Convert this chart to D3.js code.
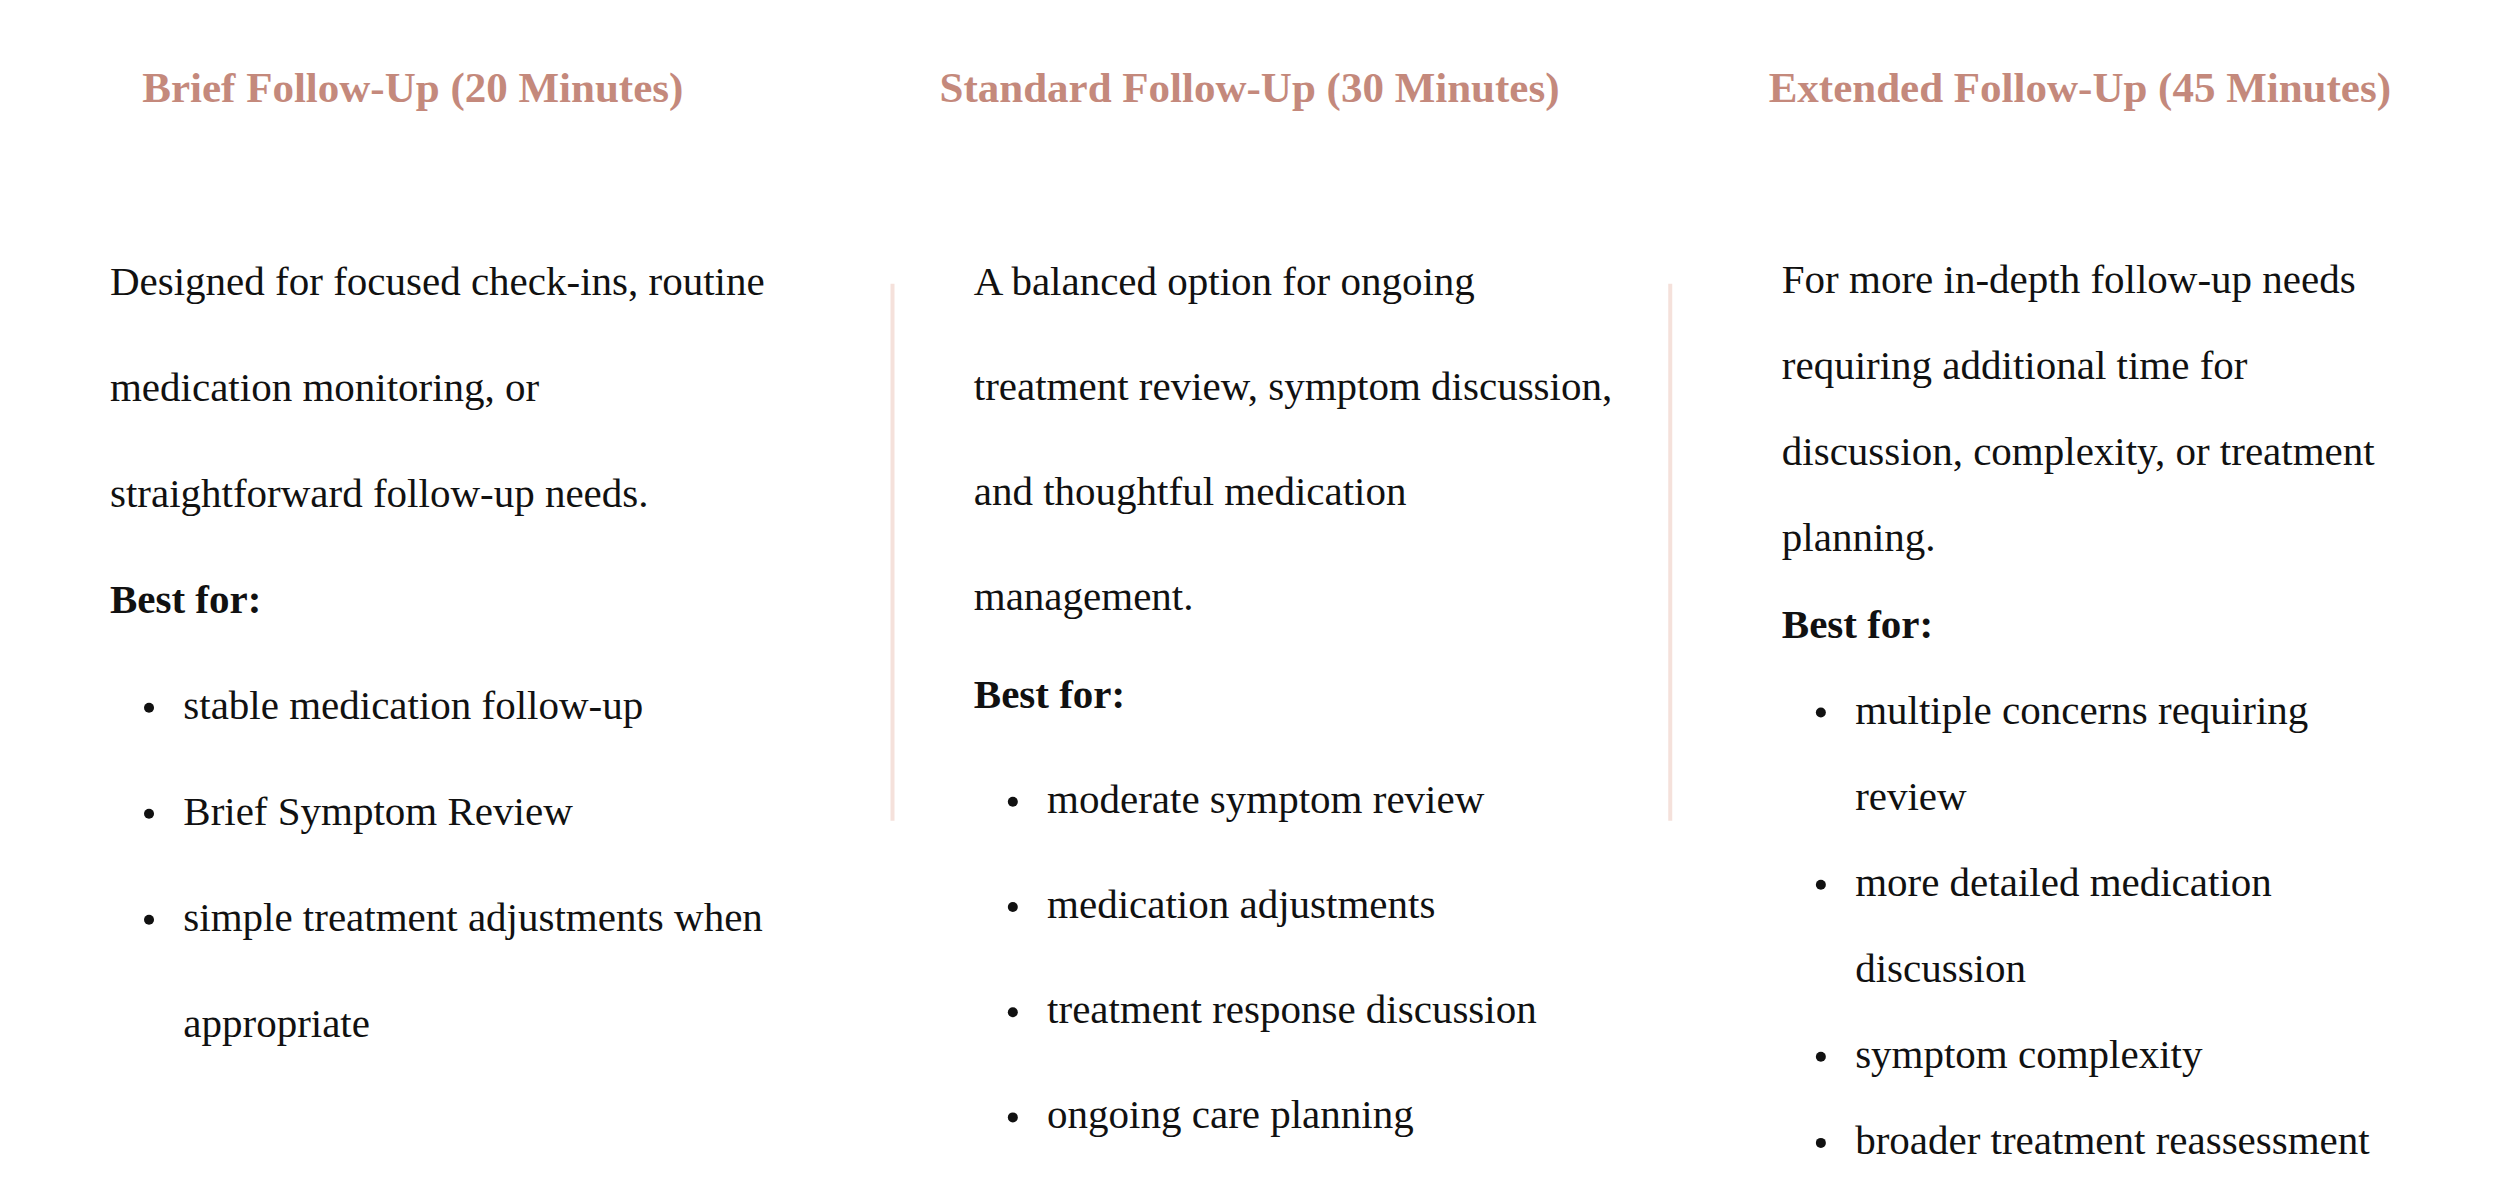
<!DOCTYPE html>
<html>
<head>
<meta charset="utf-8">
<script src="https://cdn.jsdelivr.net/npm/d3@7"></script>
<style>
  body { margin: 0; background: #fff; }
  text { font-family: "Liberation Serif", "DejaVu Serif", serif; }
</style>
</head>
<body>
<svg id="chart"></svg>
<script>
// Content
const titles = [
  "Brief Follow-Up (20 Minutes)",
  "Standard Follow-Up (30 Minutes)",
  "Extended Follow-Up (45 Minutes)"
];
const descriptions = [
  ["Designed for focused check-ins, routine", "medication monitoring, or", "straightforward follow-up needs."],
  ["A balanced option for ongoing", "treatment review, symptom discussion,", "and thoughtful medication", "management."],
  ["For more in-depth follow-up needs", "requiring additional time for", "discussion, complexity, or treatment", "planning."]
];
const bestFor = "Best for:";
const bullets = [
  [["stable medication follow-up"], ["Brief Symptom Review"], ["simple treatment adjustments when", "appropriate"]],
  [["moderate symptom review"], ["medication adjustments"], ["treatment response discussion"], ["ongoing care planning"]],
  [["multiple concerns requiring", "review"], ["more detailed medication", "discussion"], ["symptom complexity"], ["broader treatment reassessment"]]
];

// Layout (measured in a 1568-wide frame, scaled up)
const W = 2499, H = 1195, k = W / 1568;
const cols = [
  { titleX: 259, textX: 69, y0: 185, step: 66.5 },
  { titleX: 784, textX: 611, y0: 185, step: 66 },
  { titleX: 1305, textX: 1118, y0: 184, step: 54 }
];
const titleY = 64;
const dividers = [560, 1048];
const bodySize = 41;

const svg = d3.select("#chart").attr("width", W).attr("height", H);

dividers.forEach(x => {
  svg.append("line")
    .attr("x1", x * k).attr("x2", x * k)
    .attr("y1", 178 * k).attr("y2", 515 * k)
    .attr("stroke", "#f5e1db").attr("stroke-width", 4);
});

cols.forEach((c, i) => {
  svg.append("text")
    .attr("x", c.titleX * k).attr("y", titleY * k)
    .attr("text-anchor", "middle")
    .attr("font-size", 43).attr("font-weight", "bold")
    .attr("fill", "#c4897c")
    .text(titles[i]);

  let line = 0;
  const yAt = n => (c.y0 + n * c.step) * k;
  descriptions[i].forEach(t => {
    svg.append("text").attr("x", c.textX * k).attr("y", yAt(line++))
      .attr("font-size", bodySize).attr("fill", "#111").text(t);
  });
  // "Best for:" sits slightly tighter in column 2
  const bestY = i === 1 ? yAt(line) - 5 * k : yAt(line);
  svg.append("text").attr("x", c.textX * k).attr("y", bestY)
    .attr("font-size", bodySize).attr("font-weight", "bold").attr("fill", "#111").text(bestFor);
  line++;
  const shift = i === 1 ? -5 * k : 0;
  bullets[i].forEach(b => {
    b.forEach((t, j) => {
      const y = yAt(line) + shift;
      if (j === 0) {
        svg.append("circle").attr("cx", (c.textX + 24.5) * k).attr("cy", y - 11)
          .attr("r", 5).attr("fill", "#111");
      }
      svg.append("text").attr("x", (c.textX + 46) * k).attr("y", y)
        .attr("font-size", bodySize).attr("fill", "#111").text(t);
      line++;
    });
  });
});
</script>
</body>
</html>
